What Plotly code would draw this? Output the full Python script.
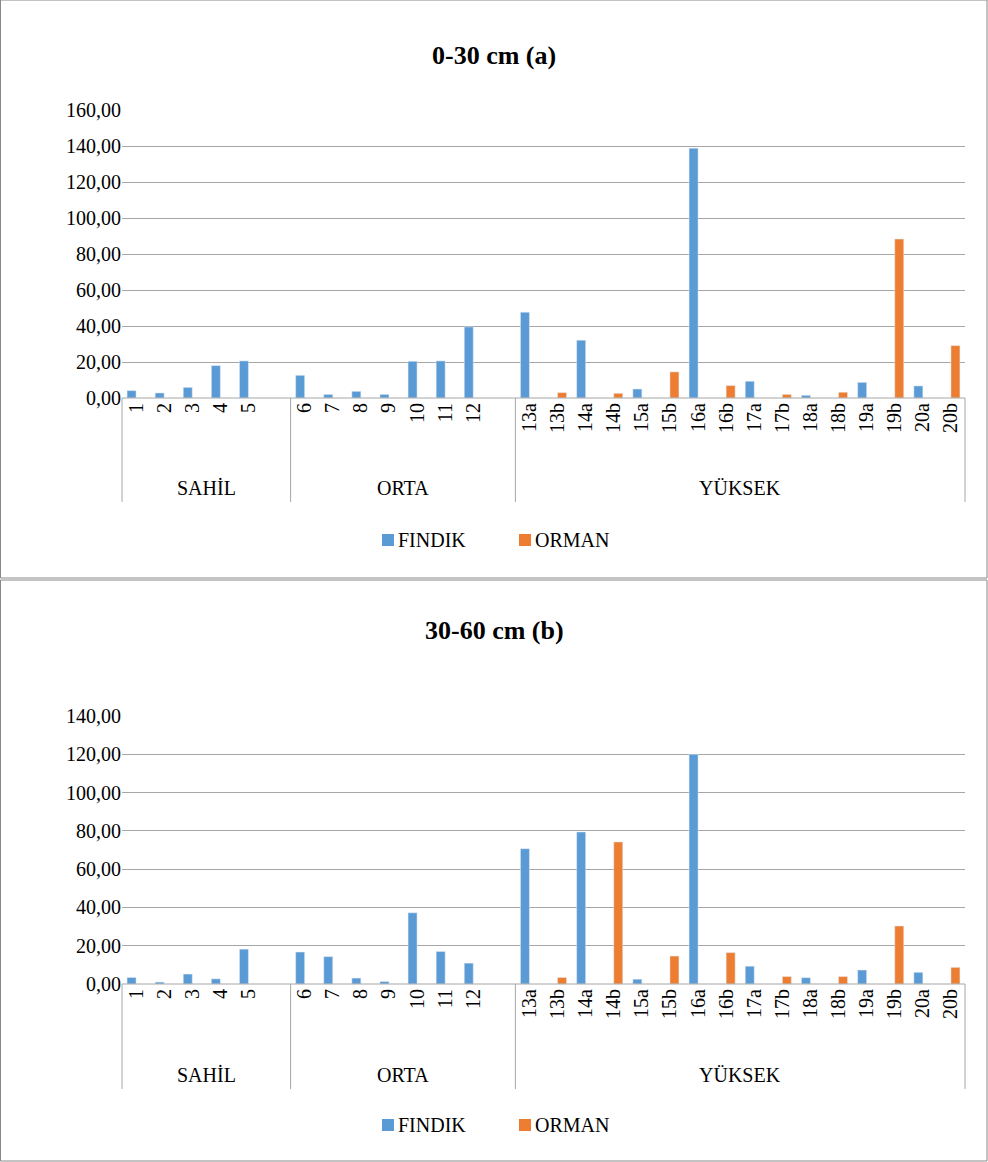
import plotly.graph_objects as go

categories = ["1","2","3","4","5","", "6","7","8","9","10","11","12","",
              "13a","13b","14a","14b","15a","15b","16a","16b","17a","17b","18a","18b","19a","19b","20a","20b"]
groups = ["SAHİL", "ORTA", "YÜKSEK"]
group_slots = [6, 8, 16]

N = None
findik_a = [4.1,2.8,5.9,18.0,20.6,N, 12.6,2.0,3.7,2.0,20.4,20.6,39.5,N,
            47.7,N,32.1,N,5.0,N,138.8,N,9.3,N,1.5,N,8.7,N,6.7,N]
orman_a  = [N,N,N,N,N,N, N,N,N,N,N,N,N,N,
            N,3.0,N,2.6,N,14.5,N,6.9,N,2.0,N,3.2,N,88.3,N,29.1]
findik_b = [3.4,1.0,5.2,2.7,18.2,N, 16.7,14.3,3.1,1.3,37.2,17.0,10.9,N,
            70.7,N,79.4,N,2.5,N,120.0,N,9.3,N,3.3,N,7.3,N,6.1,N]
orman_b  = [N,N,N,N,N,N, N,N,N,N,N,N,N,N,
            N,3.4,N,74.2,N,14.6,N,16.4,N,3.9,N,3.9,N,30.3,N,8.7]

titles = ["0-30 cm (a)", "30-60 cm (b)"]
ymax = [160, 140]

BLUE = "#5B9BD5"; ORANGE = "#ED7D31"
W, H = 988, 1162
FONT = "Liberation Serif, Times New Roman, serif"
x = list(range(len(categories)))

fig = go.Figure()
panels = [
    dict(top=0, bot=578, ytop=110, y0=398, title_y=55, grp_y=488, leg_y=540, fa=findik_a, oa=orman_a),
    dict(top=580, bot=1161, ytop=716, y0=984, title_y=630, grp_y=1075, leg_y=1125, fa=findik_b, oa=orman_b),
]
X0, X1 = 122, 965
slot = (X1 - X0) / len(categories)
shapes, annots = [], []

def ann(text, px, py, size, xanchor="center"):
    annots.append(dict(text=text, x=px / W, y=1 - py / H, xref="paper", yref="paper",
                       xanchor=xanchor, yanchor="middle", showarrow=False,
                       font=dict(family=FONT, size=size, color="black")))

for i, p in enumerate(panels):
    xa = "x" if i == 0 else "x2"
    ya = "y" if i == 0 else "y2"
    fig.add_trace(go.Bar(x=x, y=p["fa"], name="FINDIK", marker_color=BLUE,
                         xaxis=xa, yaxis=ya, showlegend=False, offsetgroup="f"))
    fig.add_trace(go.Bar(x=x, y=p["oa"], name="ORMAN", marker_color=ORANGE,
                         xaxis=xa, yaxis=ya, showlegend=False, offsetgroup="o"))
    lay = dict(
        domain=[X0 / W, X1 / W], range=[-0.5, len(categories) - 0.5],
        tickmode="array", tickvals=x, ticktext=categories, tickangle=-90,
        tickfont=dict(family=FONT, size=20, color="black"), showgrid=False,
        zeroline=False, showline=False, anchor=ya, ticks="", automargin=False)
    ylay = dict(domain=[1 - p["y0"] / H, 1 - p["ytop"] / H], range=[0, ymax[i]],
                dtick=20, tickformat=".2f", showgrid=True, gridcolor="#A6A6A6",
                gridwidth=1, zeroline=False, showline=False, anchor=xa, automargin=False,
                tickfont=dict(family=FONT, size=20, color="black"))
    if i == 0:
        fig.update_layout(xaxis=lay, yaxis=ylay)
    else:
        fig.update_layout(xaxis2=lay, yaxis2=ylay)
    shapes.append(dict(type="rect", xref="paper", yref="paper", x0=0.5 / W, x1=(W - 1) / W,
                       y0=1 - p["bot"] / H, y1=1 - p["top"] / H, line=dict(color="#888888", width=1)))
    shapes.append(dict(type="line", xref="paper", yref="paper", x0=X0 / W, x1=X1 / W,
                       y0=1 - p["y0"] / H, y1=1 - p["y0"] / H, line=dict(color="#A6A6A6", width=1)))
    pos = X0
    divs = [X0]
    for g, n in zip(groups, group_slots):
        nxt = pos + n * slot
        ann(g, (pos + nxt) / 2, p["grp_y"], 20)
        pos = nxt
        divs.append(nxt)
    for d in divs:
        shapes.append(dict(type="line", xref="paper", yref="paper", x0=d / W, x1=d / W,
                           y0=1 - (p["grp_y"] + 14) / H, y1=1 - p["y0"] / H, line=dict(color="#A6A6A6", width=1)))
    ann("<b>" + titles[i] + "</b>", W / 2, p["title_y"], 26)
    for lx, lbl, col in [(382, "FINDIK", BLUE), (519, "ORMAN", ORANGE)]:
        ly = p["leg_y"]
        shapes.append(dict(type="rect", xref="paper", yref="paper", x0=lx / W, x1=(lx + 12) / W,
                           y0=1 - (ly + 6) / H, y1=1 - (ly - 6) / H, fillcolor=col, line=dict(width=0)))
        ann(lbl, lx + 14, ly, 20, xanchor="left")

fig.update_layout(width=W, height=H, margin=dict(l=0, r=0, t=0, b=0, pad=0, autoexpand=False), barmode="group",
                  bargap=0.36, bargroupgap=0, plot_bgcolor="white", paper_bgcolor="white",
                  separators=",.", shapes=shapes, annotations=annots, showlegend=False)
fig.write_html("out.html", config=dict(displayModeBar=False))
with open("out.html", encoding="utf-8") as f:
    html = f.read()
html = html.replace("<body>", '<body style="margin:0;overflow:hidden">', 1)
with open("out.html", "w", encoding="utf-8") as f:
    f.write(html)
